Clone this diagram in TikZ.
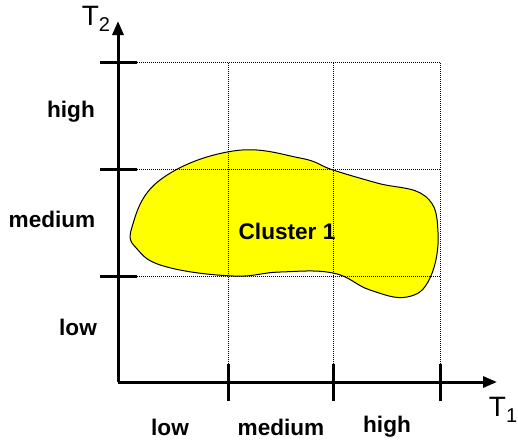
\documentclass[tikz,border=0pt]{standalone}
\usepackage{fontspec}
\setmainfont{Liberation Sans}
\usetikzlibrary{arrows.meta, positioning}
\definecolor{ClusterYellow}{RGB}{255,255,0}
\newcommand{\axsub}[1]{\raisebox{-0.45ex}{\fontsize{10}{12}\selectfont #1}}

\begin{document}
\begin{tikzpicture}[x=0.5pt,y=-0.5pt,
        axis/.style={line width=1.5pt,-{Triangle[length=7pt,width=5.5pt]}},
        tick/.style={line width=1.5pt},
        gridline/.style={line width=0.5pt,dash pattern=on 0.5pt off 0.5pt},
        lbl/.style={font=\fontsize{11.3}{13}\selectfont\bfseries},
        axlbl/.style={font=\fontsize{14}{16}\selectfont,inner sep=0pt}
      ]
        \useasboundingbox (0,0) rectangle (518,446);

        % cluster blob
        \draw[fill=ClusterYellow,line width=0.5pt] plot[smooth cycle,tension=0.7] coordinates {
          (132,227) (160,180) (233,151) (300,158) (333,170) (377,183)
          (425,196) (438,232) (430,278) (407,297) (370,290) (333,273)
          (280,272) (233,276) (167,267) (138,250)};

        % axes
        \coordinate (O) at (118,382);
        \coordinate (xend) at (497,382);
        \coordinate (yend) at (118,21);
        \draw[axis] (O) -- (xend);
        \draw[axis] (O) -- (yend);

        % ticks and grid
        \foreach \n/\y in {a/276,b/169,c/62} {
          \coordinate (yl\n) at (100,\y);
          \coordinate (yr\n) at (137,\y);
          \coordinate (yg\n) at (440,\y);
          \draw[gridline] (yr\n) -- (yg\n);
          \draw[tick] (yl\n) -- (yr\n);
        }
        \foreach \n/\x in {a/228,b/333,c/440} {
          \coordinate (xb\n) at (\x,401);
          \coordinate (xt\n) at (\x,364);
          \coordinate (xg\n) at (\x,62);
          \draw[gridline] (xt\n) -- (xg\n);
          \draw[tick] (xb\n) -- (xt\n);
        }

        % labels
        \node[lbl] (c1) at (287,231) {Cluster 1};
        \node[lbl] (ylow) at (78,327) {low};
        \node[lbl] (ymed) at (52,219) {medium};
        \node[lbl] (yhigh) at (71,112) {high};
        \node[lbl] (xlow) at (170,427) {low};
        \node[lbl] (xmed) at (281,427) {medium};
        \node[lbl] (xhigh) at (387,427) {high};
        \node[axlbl] (t1) at (503,410) {T\axsub{1}};
        \node[axlbl] (t2) at (96,19) {T\axsub{2}};
      \end{tikzpicture}
\end{document}
